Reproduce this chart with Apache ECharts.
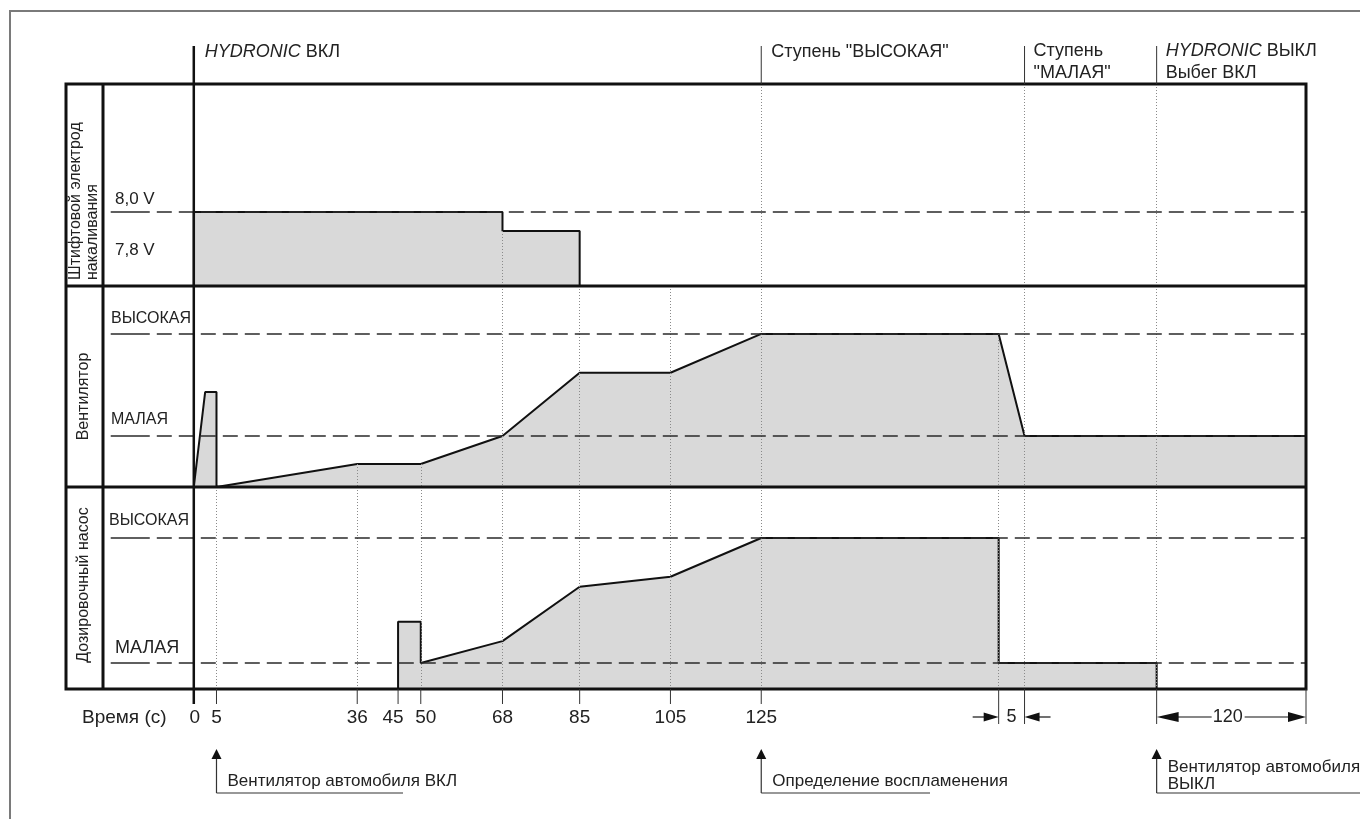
<!DOCTYPE html>
<html><head><meta charset="utf-8">
<script src="https://cdn.jsdelivr.net/npm/echarts@6/dist/echarts.min.js"></script>
<style>html,body{margin:0;padding:0;background:#fff}#c{width:1360px;height:819px}</style>
</head><body><div id="c"></div>
<script>
// ---------------- DATA ----------------
// time axis ticks (s)
const tickTimes  = [0, 5, 36, 45, 50, 68, 85, 105, 125];
const tickLabels = ['0', '5', '36', '45', '50', '68', '85', '105', '125'];
// later phases are drawn off-scale in the original diagram; positions in diagram seconds
const tHighEnd = 177.3, tLowStart = 183.0, tOff = 212.1, tEnd = 245;
// glow plug voltage (V); 0 = off
const glowTimes = [0, 0, 68, 68, 85, 85];
const glowVolts = [0, 8.0, 8.0, 7.8, 7.8, 0];
// fan speed (0 = stop, 1 = МАЛАЯ, 3 = ВЫСОКАЯ)
const fanTimes = [0, 2.5, 5, 5, 36, 50, 68, 85, 105, 125, tHighEnd, tLowStart, tEnd];
const fanLevel = [0, 1.86, 1.86, 0, 0.45, 0.45, 1, 2.24, 2.24, 3, 3, 1, 1];
// dosing pump rate (0 = off, 1 = МАЛАЯ, 3 = ВЫСОКАЯ)
const pumpTimes = [45, 45, 50, 50, 68, 85, 105, 125, tHighEnd, tHighEnd, tOff, tOff];
const pumpLevel = [0, 1.66, 1.66, 1, 1.35, 2.22, 2.38, 3, 3, 1, 1, 0];
// reference levels
const glowRef = [8.0];
const stepRefs = [1, 3];
const stepNames = ['МАЛАЯ', 'ВЫСОКАЯ'];
// texts
const rowTitles = [['Штифтовой электрод', 'накаливания'], ['Вентилятор'], ['Дозировочный насос']];
const axisTitle = 'Время (с)';

(function () {
const FONT = "'Liberation Sans', Arial, Helvetica, sans-serif";
const X_MIN = -20, X_MAX = 245;
const zip = (a, b) => a.map((v, i) => [v, b[i]]);
const chart = echarts.init(document.getElementById('c'), null, {renderer: 'canvas'});

const yRanges = [[7.22, 9.35], [0, 3.94], [0.584, 3.816]];
const gridDefs = [
  {left: 103, right: 54, top: 84, height: 202},
  {left: 103, right: 54, top: 286, height: 201},
  {left: 103, right: 54, top: 487, height: 202}
];

function areaSeries(g, data) {
  return {type: 'line', xAxisIndex: g, yAxisIndex: g, data: data, symbol: 'none', showSymbol: false,
    clip: true, lineStyle: {color: '#111', width: 2}, areaStyle: {color: '#d9d9d9', opacity: 1, origin: 'start'},
    z: 2, silent: true};
}
function refSeries(g, levels) {
  const data = [], under = [];
  levels.forEach(l => {
    data.push({coords: [[-8.15, l], [X_MAX, l]]});
    under.push({coords: [[-18.3, l], [-9.7, l]]});
  });
  return [
    {type: 'lines', coordinateSystem: 'cartesian2d', xAxisIndex: g, yAxisIndex: g, data: data,
      lineStyle: {color: '#2a2a2a', width: 1.5, type: [15, 7], opacity: 1}, z: 4, silent: true},
    {type: 'lines', coordinateSystem: 'cartesian2d', xAxisIndex: g, yAxisIndex: g, data: under,
      lineStyle: {color: '#2a2a2a', width: 1.5, type: 'solid', opacity: 1}, z: 4, silent: true}
  ];
}
function guideSeries(g, segs) {
  const lo = yRanges[g][0], hi = yRanges[g][1];
  return {type: 'lines', coordinateSystem: 'cartesian2d', xAxisIndex: g, yAxisIndex: g,
    data: segs.map(s => ({coords: [[s[0], s[1] === null ? hi : s[1]], [s[0], lo]]})),
    lineStyle: {color: '#8a8a8a', width: 1, type: [1, 2], opacity: 1}, z: 3, silent: true};
}

const option = {
  animation: false,
  grid: gridDefs,
  xAxis: [0, 1, 2].map(i => ({type: 'value', gridIndex: i, min: X_MIN, max: X_MAX, show: false})),
  yAxis: yRanges.map((r, i) => ({type: 'value', gridIndex: i, min: r[0], max: r[1], show: false})),
  series: [
    areaSeries(0, zip(glowTimes, glowVolts)),
    areaSeries(1, zip(fanTimes, fanLevel)),
    areaSeries(2, zip(pumpTimes, pumpLevel)),
    ...refSeries(0, glowRef),
    ...refSeries(1, stepRefs),
    ...refSeries(2, stepRefs),
    guideSeries(0, [[68, 7.8], [125, null], [tLowStart, null], [tOff, null]]),
    guideSeries(1, [[36, 0.45], [50, 0.45], [68, null], [85, null], [105, null], [125, null], [tHighEnd, 3], [tLowStart, null], [tOff, null]]),
    guideSeries(2, [[5, null], [36, null], [50, null], [68, null], [85, null], [105, null], [125, null], [tHighEnd, null], [tLowStart, null], [tOff, null]])
  ]
};
chart.setOption(option);

// ---------------- DECORATION (positions through the axes) ----------------
const P = (g, t, v) => chart.convertToPixel({gridIndex: g}, [t, v]);
const xAt = t => P(2, t, 1)[0];
const G = [];
const line = (x1, y1, x2, y2, w, col, z) => G.push({type: 'line', z: z || 10, silent: true,
  shape: {x1: x1, y1: y1, x2: x2, y2: y2}, style: {stroke: col || '#111', lineWidth: w || 1}});
const text = (t, x, y, size, align, extra) => G.push(Object.assign({type: 'text', z: 11, silent: true,
  style: {text: t, x: x, y: y, font: size + 'px ' + FONT, fill: '#222', align: align || 'left', verticalAlign: 'middle'}}, extra || {}));
const tri = (pts) => G.push({type: 'polygon', z: 11, silent: true, shape: {points: pts}, style: {fill: '#111'}});

const yTop = P(0, 0, yRanges[0][1])[1];
const b1 = P(0, 0, yRanges[0][0])[1];
const b2 = P(1, 0, yRanges[1][0])[1];
const yBot = P(2, 0, yRanges[2][0])[1];
const xL = 66, xC = 103, xR = xAt(tEnd);

// outer page frame
G.push({type: 'rect', z: 1, silent: true, shape: {x: 10, y: 11, width: 1400, height: 900}, style: {fill: 'none', stroke: '#7a7a7a', lineWidth: 2}});
// table frame
G.push({type: 'rect', z: 10, silent: true, shape: {x: xL, y: yTop, width: xR - xL, height: yBot - yTop}, style: {fill: 'none', stroke: '#111', lineWidth: 3}});
line(xC, yTop, xC, yBot, 3);
line(xL, b1, xR, b1, 3);
line(xL, b2, xR, b2, 3);
// start line (t = 0)
line(xAt(0), 46, xAt(0), yBot + 15, 2.5);
// header markers
[125, tLowStart, tOff].forEach(t => line(xAt(t), 46, xAt(t), yTop, 1, '#333'));
const rich = {i: {fontStyle: 'italic', fontSize: 18, fontFamily: FONT, fill: '#222'}, n: {fontSize: 18, fontFamily: FONT, fill: '#222'}};
G.push({type: 'text', z: 11, silent: true, style: {text: '{i|HYDRONIC}{n| ВКЛ}', x: xAt(0) + 11, y: 52, rich: rich, align: 'left', verticalAlign: 'middle'}});
text('Ступень "ВЫСОКАЯ"', xAt(125) + 10, 52, 18);
text('Ступень', xAt(tLowStart) + 9, 51, 18);
text('"МАЛАЯ"', xAt(tLowStart) + 9, 73, 18);
G.push({type: 'text', z: 11, silent: true, style: {text: '{i|HYDRONIC}{n| ВЫКЛ}', x: xAt(tOff) + 9, y: 51, rich: rich, align: 'left', verticalAlign: 'middle'}});
text('Выбег ВКЛ', xAt(tOff) + 9, 73, 18);

// row titles (rotated)
text(rowTitles[0][0], 0, 0, 16, 'left', {x: 76, y: b1 - 6, rotation: Math.PI / 2});
text(rowTitles[0][1], 0, 0, 16, 'left', {x: 93, y: b1 - 6, rotation: Math.PI / 2});
text(rowTitles[1][0], 0, 0, 16, 'center', {x: 84, y: (b1 + b2) / 2 + 10, rotation: Math.PI / 2});
text(rowTitles[2][0], 0, 0, 16, 'center', {x: 84, y: (b2 + yBot) / 2 - 3, rotation: Math.PI / 2});

// level labels
text('8,0 V', 115, P(0, 0, 8.0)[1] - 13, 17);
text('7,8 V', 115, P(0, 0, 7.8)[1] + 19, 17);
text(stepNames[1], 111, P(1, 0, stepRefs[1])[1] - 15, 16);
text(stepNames[0], 111, P(1, 0, stepRefs[0])[1] - 16, 16);
text(stepNames[1], 109, P(2, 0, stepRefs[1])[1] - 17, 16);
text(stepNames[0], 115, P(2, 0, stepRefs[0])[1] - 15, 18);

// time axis ticks + labels
const nudge = {'45': -5, '50': 5, '0': 1};
tickTimes.forEach((t, i) => {
  const x = xAt(t);
  if (t !== 0) line(x, yBot, x, yBot + 15, 1, '#333');
  text(tickLabels[i], x + (nudge[tickLabels[i]] || 0), 718, 19, 'center');
});
text(axisTitle, 82, 718, 19);

// duration markers
const yd = 717;
[tHighEnd, tLowStart, tOff, tEnd].forEach(t => line(xAt(t), yBot, xAt(t), 724, 1, '#333'));
const x1 = xAt(tHighEnd), x2 = xAt(tLowStart), x3 = xAt(tOff), x4 = xAt(tEnd);
line(x1 - 26, yd, x1 - 14, yd, 1.2);
tri([[x1, yd], [x1 - 15, yd - 4.5], [x1 - 15, yd + 4.5]]);
text('5', (x1 + x2) / 2, yd, 18, 'center');
line(x2 + 14, yd, x2 + 26, yd, 1.2);
tri([[x2, yd], [x2 + 15, yd - 4.5], [x2 + 15, yd + 4.5]]);
tri([[x3, yd], [x3 + 22, yd - 5], [x3 + 22, yd + 5]]);
line(x3 + 20, yd, x3 + 55, yd, 1.2);
text('120', x3 + 71, yd, 18, 'center');
line(x3 + 88, yd, x4 - 16, yd, 1.2);
tri([[x4, yd], [x4 - 18, yd - 5], [x4 - 18, yd + 5]]);

// event arrows
function eventArrow(t, lines, endX) {
  const x = xAt(t);
  tri([[x, 749], [x - 5, 759], [x + 5, 759]]);
  line(x, 758, x, 793, 1.2, '#333');
  line(x, 793, endX, 793, 1.2, '#333');
  if (lines.length === 1) text(lines[0], x + 11, 781, 17);
  else { text(lines[0], x + 11, 767, 17); text(lines[1], x + 11, 784, 17); }
}
eventArrow(5, ['Вентилятор автомобиля ВКЛ'], 403);
eventArrow(125, ['Определение воспламенения'], 930);
eventArrow(tOff, ['Вентилятор автомобиля', 'ВЫКЛ'], 1360);

chart.setOption({graphic: {elements: G}});
})();
</script>
</body></html>
